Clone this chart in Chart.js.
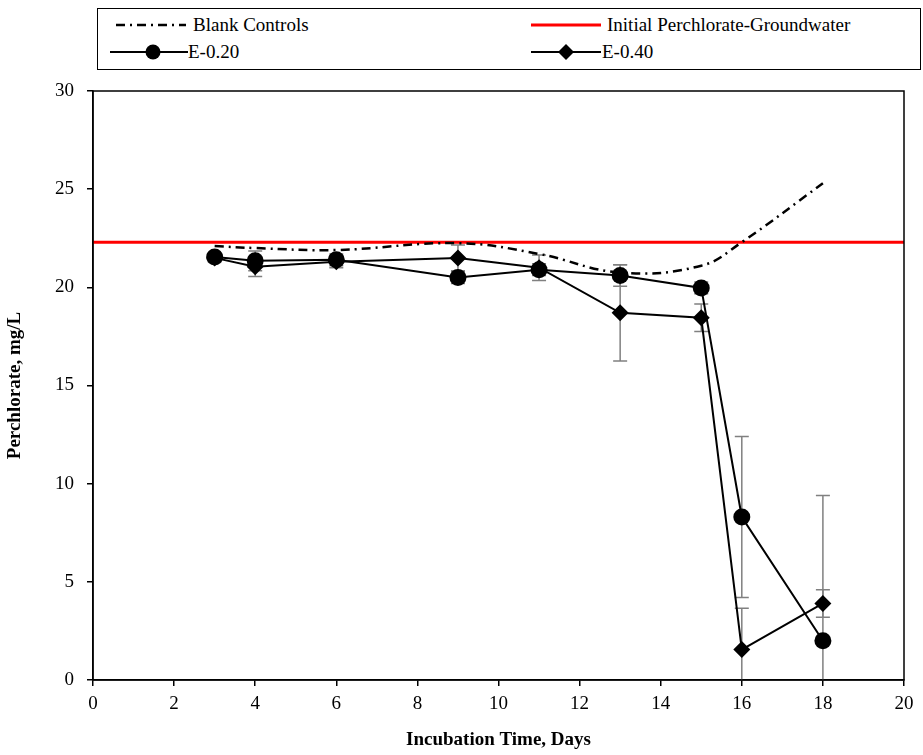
<!DOCTYPE html>
<html>
<head>
<meta charset="utf-8">
<script src="https://cdn.jsdelivr.net/npm/chart.js@4.4.1/dist/chart.umd.min.js"></script>
<style>
  html, body { margin: 0; padding: 0; background: #fff; }
  #wrap { position: relative; width: 923px; height: 755px; font-family: "Liberation Serif", Tinos, "DejaVu Serif", serif; }
  #legend { position: absolute; left: 97px; top: 8px; width: 822px; height: 60px; border: 1.5px solid #000; background: #fff; }
  .item { position: absolute; font-size: 19px; line-height: 22px; color: #000; white-space: nowrap; }
  .item svg { position: absolute; top: 0; }
  .item span { position: absolute; top: 0; }
</style>
</head>
<body>
<div id="wrap">
  <canvas id="chart" width="923" height="755"></canvas>
  <div id="legend">
    <div class="item" style="left:0;top:5px">
      <svg width="80" height="22" style="left:16px"><line x1="2" y1="11" x2="72" y2="11" stroke="#000" stroke-width="2.5" stroke-dasharray="9,5,2,5"/></svg>
      <span style="left:95px">Blank Controls</span>
    </div>
    <div class="item" style="left:0;top:32px">
      <svg width="80" height="22" style="left:12px"><line x1="0" y1="11" x2="78" y2="11" stroke="#000" stroke-width="2"/><circle cx="43" cy="11" r="7.5" fill="#000"/></svg>
      <span style="left:90px">E-0.20</span>
    </div>
    <div class="item" style="left:432px;top:5px">
      <svg width="72" height="22" style="left:0"><line x1="1" y1="11" x2="71" y2="11" stroke="#ff0000" stroke-width="3"/></svg>
      <span style="left:77px">Initial Perchlorate-Groundwater</span>
    </div>
    <div class="item" style="left:432px;top:32px">
      <svg width="72" height="22" style="left:0"><line x1="1" y1="11" x2="71" y2="11" stroke="#000" stroke-width="2"/><polygon points="36,3 44,11 36,19 28,11" fill="#000"/></svg>
      <span style="left:72px">E-0.40</span>
    </div>
  </div>
</div>
<script>
// sampling days
const days = [3, 4, 6, 9, 11, 13, 15, 16, 18];

// blank controls (smoothed dash-dot line)
const blankDays = [3, 4, 6, 9, 11, 13, 15, 16, 18];
const blankVals = [22.1, 22.0, 21.9, 22.25, 21.7, 20.75, 21.1, 22.3, 25.3];

// initial perchlorate level in groundwater
const initDays = [0, 20];
const initVals = [22.3, 22.3];

// E-0.20 and E-0.40 means and std deviations
const e020 = [21.55, 21.35, 21.4, 20.5, 20.9, 20.6, 19.97, 8.3, 2.0];
const e020Err = [0.2, 0.5, 0.3, 0.3, 0.3, 0.55, 0.3, 4.1, 7.4];
const e040 = [21.5, 21.05, 21.3, 21.5, 21.0, 18.7, 18.45, 1.55, 3.9];
const e040Err = [0.2, 0.5, 0.3, 0.65, 0.65, 2.45, 0.7, 2.1, 0.7];

// x/y tick settings
const xMin = 0, xMax = 20, xStep = 2;
const yMin = 0, yMax = 30, yStep = 5;

const pts = (xs, ys) => xs.map((x, i) => ({ x: x, y: ys[i] }));

const fontFamily = '"Liberation Serif", Tinos, "DejaVu Serif", serif';

// error bars drawn via the chart's scales
const errorBars = {
  id: 'errorBars',
  beforeDatasetsDraw(chart) {
    const { ctx, chartArea, scales: { x, y } } = chart;
    ctx.save();
    ctx.beginPath();
    ctx.rect(chartArea.left, chartArea.top, chartArea.right - chartArea.left, chartArea.bottom - chartArea.top);
    ctx.clip();
    ctx.strokeStyle = '#808080';
    ctx.lineWidth = 1.5;
    chart.data.datasets.forEach(ds => {
      if (!ds.errors) return;
      ds.data.forEach((p, i) => {
        const e = ds.errors[i];
        const px = x.getPixelForValue(p.x);
        const top = y.getPixelForValue(p.y + e);
        const bot = y.getPixelForValue(p.y - e);
        ctx.beginPath();
        ctx.moveTo(px, top); ctx.lineTo(px, bot);
        ctx.moveTo(px - 7, top); ctx.lineTo(px + 7, top);
        ctx.moveTo(px - 7, bot); ctx.lineTo(px + 7, bot);
        ctx.stroke();
      });
    });
    ctx.restore();
  }
};

// closed frame round plot area
const frame = {
  id: 'frame',
  afterDraw(chart) {
    const { ctx, chartArea: a } = chart;
    ctx.save();
    ctx.strokeStyle = '#000';
    ctx.lineWidth = 1.5;
    ctx.strokeRect(a.left, a.top, a.right - a.left, a.bottom - a.top);
    ctx.restore();
  }
};

new Chart(document.getElementById('chart'), {
  type: 'line',
  data: {
    datasets: [
      {
        label: 'Initial Perchlorate-Groundwater',
        data: pts(initDays, initVals),
        borderColor: '#ff0000',
        borderWidth: 3,
        pointRadius: 0,
        order: 4
      },
      {
        label: 'Blank Controls',
        data: pts(blankDays, blankVals),
        borderColor: '#000',
        borderWidth: 2.5,
        borderDash: [9, 5, 2, 5],
        tension: 0.4,
        pointRadius: 0,
        order: 3
      },
      {
        label: 'E-0.20',
        data: pts(days, e020),
        errors: e020Err,
        borderColor: '#000',
        backgroundColor: '#000',
        borderWidth: 2,
        pointStyle: 'circle',
        pointRadius: 8.5,
        pointBorderWidth: 0,
        order: 2
      },
      {
        label: 'E-0.40',
        data: pts(days, e040),
        errors: e040Err,
        borderColor: '#000',
        backgroundColor: '#000',
        borderWidth: 2,
        pointStyle: 'rectRot',
        pointRadius: 8.5,
        pointBorderWidth: 0,
        order: 1
      }
    ]
  },
  options: {
    responsive: false,
    animation: false,
    layout: { padding: { top: 91, right: 19, left: 0, bottom: 0 } },
    plugins: {
      legend: { display: false },
      tooltip: { enabled: false }
    },
    scales: {
      x: {
        type: 'linear',
        min: xMin,
        max: xMax,
        afterFit(s) { s.height = 75; },
        ticks: { stepSize: xStep, color: '#000', padding: 7, font: { family: fontFamily, size: 19 } },
        grid: { display: true, drawOnChartArea: false, drawTicks: true, tickLength: 6, color: '#000', lineWidth: 1.5 },
        border: { display: true, color: '#000', width: 1.5 },
        title: { display: true, text: 'Incubation Time, Days', color: '#000', padding: 4, font: { family: fontFamily, size: 19, weight: 'bold' } }
      },
      y: {
        type: 'linear',
        min: yMin,
        max: yMax,
        afterFit(s) { s.width = 93; },
        ticks: { stepSize: yStep, color: '#000', padding: 13, font: { family: fontFamily, size: 19 } },
        grid: { display: true, drawOnChartArea: false, drawTicks: true, tickLength: 6, color: '#000', lineWidth: 1.5 },
        border: { display: true, color: '#000', width: 1.5 },
        title: { display: true, text: 'Perchlorate, mg/L', color: '#000', padding: 4, font: { family: fontFamily, size: 19, weight: 'bold' } }
      }
    }
  },
  plugins: [errorBars, frame]
});
</script>
</body>
</html>
